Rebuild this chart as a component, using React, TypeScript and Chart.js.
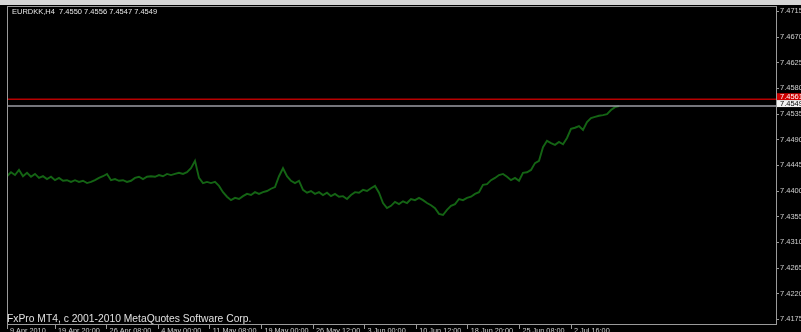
import React, { useEffect, useRef } from "react";
import { Chart, registerables } from "chart.js";

Chart.register(...registerables);

const symbolHeader = "EURDKK,H4  7.4550 7.4556 7.4547 7.4549";
const copyright = "FxPro MT4, c 2001-2010 MetaQuotes Software Corp.";

const timeLabels = [
  "9 Apr 2010", "19 Apr 20:00", "26 Apr 08:00", "4 May 00:00", "11 May 08:00", "19 May 00:00",
  "26 May 12:00", "3 Jun 00:00", "10 Jun 12:00", "18 Jun 20:00", "25 Jun 08:00", "2 Jul 16:00",
];
const timeLabelBars = [0, 12, 24.9, 37.8, 50.7, 63.6, 76.5, 89.4, 102.3, 115.2, 128.1, 141];

const closes = [
  7.4426, 7.4433, 7.4428, 7.4437, 7.4426, 7.4432, 7.4425, 7.4430, 7.4423, 7.4426,
  7.4421, 7.4425, 7.4419, 7.4423, 7.4418, 7.4419, 7.4416, 7.4419, 7.4416, 7.4418,
  7.4414, 7.4416, 7.4419, 7.4423, 7.4426, 7.4430, 7.4419, 7.4421, 7.4418, 7.4419,
  7.4416, 7.4418, 7.4423, 7.4425, 7.4421, 7.4425, 7.4426, 7.4425, 7.4428, 7.4426,
  7.4430, 7.4428, 7.4430, 7.4432, 7.4430, 7.4433, 7.4440, 7.4453, 7.4423, 7.4414,
  7.4416, 7.4414, 7.4416, 7.4409, 7.4398, 7.4390, 7.4384, 7.4388, 7.4386, 7.4391,
  7.4395, 7.4393, 7.4398, 7.4395, 7.4398, 7.4400, 7.4404, 7.4407, 7.4426, 7.4440,
  7.4426, 7.4418, 7.4414, 7.4418, 7.4402, 7.4397, 7.4400, 7.4395, 7.4398, 7.4393,
  7.4397, 7.4391, 7.4395, 7.4390, 7.4391, 7.4386, 7.4393, 7.4398, 7.4397, 7.4402,
  7.4400, 7.4405, 7.4409, 7.4397, 7.4379, 7.4370, 7.4374, 7.4381, 7.4377, 7.4382,
  7.4379, 7.4386, 7.4384, 7.4388, 7.4384, 7.4379, 7.4375, 7.4370, 7.4360, 7.4358,
  7.4367, 7.4374, 7.4377, 7.4386, 7.4384, 7.4388, 7.4390, 7.4395, 7.4398, 7.4411,
  7.4412, 7.4419, 7.4423, 7.4428, 7.4430, 7.4425, 7.4419, 7.4423, 7.4418, 7.4432,
  7.4433, 7.4437, 7.4449, 7.4453, 7.4477, 7.4488, 7.4484, 7.4481, 7.4486, 7.4482,
  7.4493, 7.4509, 7.4511, 7.4514, 7.4507, 7.4521, 7.4528, 7.4530, 7.4532, 7.4533,
  7.4535, 7.4542, 7.4547, 7.4549,
];

const bidPrice = 7.4549;
const askPrice = 7.4561;

const priceTicks = [
  7.4175, 7.4220, 7.4265, 7.4310, 7.4355, 7.4400, 7.4445,
  7.4490, 7.4535, 7.4580, 7.4625, 7.4670, 7.4715,
];
const priceMin = 7.41668;
const priceMax = 7.47245;
const barSlots = 192.25;

const FONT = '"Liberation Sans", "DejaVu Sans", sans-serif';

const chromePlugin = {
  id: "mtChrome",
  beforeDraw(chart: any) {
    const { ctx, width, height } = chart;
    ctx.save();
    ctx.fillStyle = "#000000";
    ctx.fillRect(0, 0, width, height);
    ctx.fillStyle = "#d6d6d6";
    ctx.fillRect(0, 0, width, 5);
    ctx.restore();
  },
  afterDraw(chart: any) {
    const { ctx, chartArea } = chart;
    const { left, top, right, bottom } = chartArea;
    const y = chart.scales.y;
    ctx.save();
    ctx.strokeStyle = "#9a9a9a";
    ctx.lineWidth = 1;
    ctx.strokeRect(left + 0.5, top + 0.5, right - left, bottom - top);
    const tags = [
      { v: askPrice, bg: "#d00000", fg: "#ffffff" },
      { v: bidPrice, bg: "#f2f2f2", fg: "#000000" },
    ];
    ctx.font = `7.5px ${FONT}`;
    ctx.textBaseline = "middle";
    ctx.textAlign = "left";
    tags.forEach((t) => {
      const py = y.getPixelForValue(t.v);
      ctx.fillStyle = t.bg;
      ctx.fillRect(right + 1, py - 6, 30, 7);
      ctx.fillStyle = t.fg;
      ctx.fillText(t.v.toFixed(4), right + 4, py - 2.5);
    });
    ctx.restore();
  },
};

export default function App() {
  const canvasRef = useRef<HTMLCanvasElement | null>(null);

  useEffect(() => {
    const canvas = canvasRef.current;
    if (!canvas) return;
    const closeData = closes.map((v, i) => ({ x: i, y: v }));
    const chart = new Chart(canvas, {
      type: "line",
      data: {
        datasets: [
          {
            data: [{ x: 0, y: askPrice }, { x: barSlots, y: askPrice }],
            borderColor: "#b80000",
            borderWidth: 1.6,
            pointRadius: 0,
          },
          {
            data: [{ x: 0, y: bidPrice }, { x: barSlots, y: bidPrice }],
            borderColor: "#9c9ca4",
            borderWidth: 1.6,
            pointRadius: 0,
          },
          {
            data: closeData,
            borderColor: "#146414",
            borderWidth: 1.9,
            pointRadius: 0,
            tension: 0,
          },
        ],
      },
      options: {
        responsive: false,
        maintainAspectRatio: false,
        animation: false,
        layout: { padding: { left: 7, top: 6, right: 0, bottom: 0 } },
        plugins: { legend: { display: false }, tooltip: { enabled: false } },
        scales: {
          x: {
            type: "linear",
            position: "bottom",
            min: 0,
            max: barSlots,
            border: { display: false },
            grid: { drawOnChartArea: false, drawTicks: true, tickLength: 5, color: "#9a9a9a" },
            ticks: {
              align: "start",
              autoSkip: false,
              maxRotation: 0,
              padding: -2,
              labelOffset: 3,
              color: "#d0d0d0",
              font: { size: 7.3, family: FONT },
              callback: (_v: any, i: number) => timeLabels[i] ?? "",
            },
            afterBuildTicks: (s: any) => {
              s.ticks = timeLabelBars.map((v) => ({ value: v }));
            },
            afterFit: (s: any) => {
              s.height = 8;
            },
          },
          y: {
            type: "linear",
            position: "right",
            min: priceMin,
            max: priceMax,
            border: { display: false },
            grid: { drawOnChartArea: false, drawTicks: true, tickLength: 3, color: "#9a9a9a" },
            ticks: {
              padding: 1,
              color: "#d0d0d0",
              font: { size: 7.5, family: FONT },
              callback: (v: any) => Number(v).toFixed(4),
            },
            afterBuildTicks: (s: any) => {
              s.ticks = priceTicks.map((v) => ({ value: v }));
            },
            afterFit: (s: any) => {
              s.width = 25;
            },
          },
        },
      },
      plugins: [chromePlugin],
    } as any);
    return () => chart.destroy();
  }, []);

  return (
    <div
      style={{
        position: "absolute",
        left: 0,
        top: 0,
        width: 801,
        height: 332,
        background: "#000",
        overflow: "hidden",
      }}
    >
      <canvas ref={canvasRef} width={801} height={332} style={{ display: "block", width: 801, height: 332 }} />
      <div
        style={{
          position: "absolute",
          left: 12,
          top: 8,
          font: `7.5px ${FONT}`,
          lineHeight: "8px",
          color: "#e6e6e6",
          whiteSpace: "pre",
        }}
      >
        {symbolHeader}
      </div>
      <div
        style={{
          position: "absolute",
          left: 7,
          top: 313,
          font: `10.3px ${FONT}`,
          lineHeight: "11px",
          color: "#e0e0e0",
          whiteSpace: "pre",
        }}
      >
        {copyright}
      </div>
    </div>
  );
}
